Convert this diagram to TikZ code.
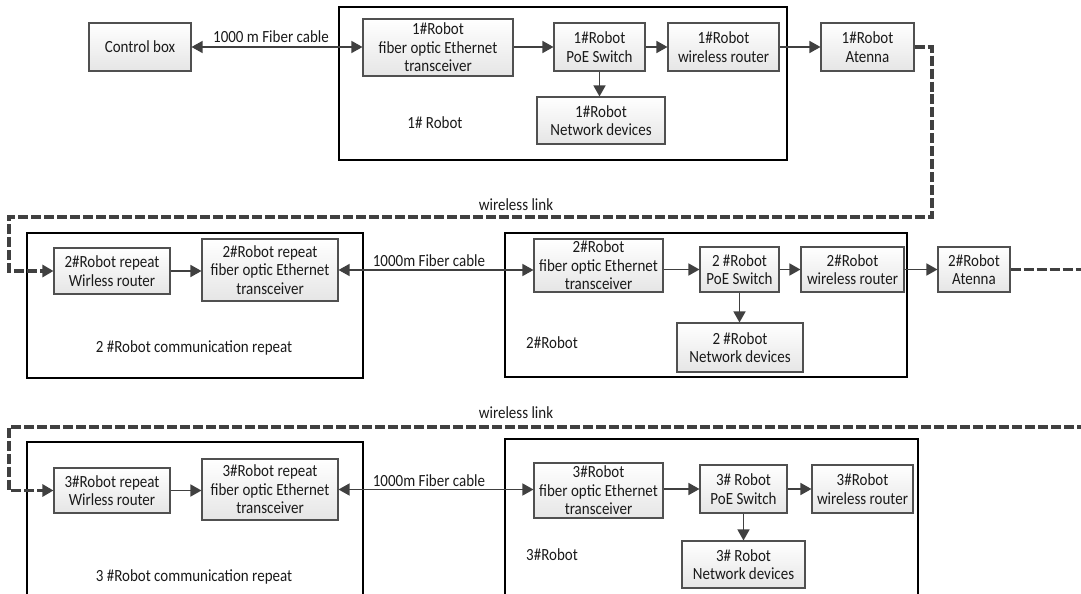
\documentclass[tikz,border=0pt]{standalone}
\usepackage{fontspec}
\setmainfont{Carlito}[FakeStretch=0.88]
\usetikzlibrary{arrows.meta,shadows,calc}
\definecolor{boxline}{HTML}{505050}
\definecolor{arr}{HTML}{404040}
\definecolor{txt}{HTML}{1A1A1A}
\tikzset{
 dev/.style={draw=boxline, line width=0.6pt, top color=white, bottom color=gray!20, align=center, inner sep=0pt, text=txt,
   font=\fontsize{9.7}{10.6}\selectfont,
   drop shadow={shadow xshift=0.7pt, shadow yshift=-0.7pt, fill=gray!40, opacity=1}},
 grp/.style={draw=black, line width=1.1pt, inner sep=0pt},
 lbl/.style={inner sep=0pt, text=txt, font=\fontsize{9.7}{10.6}\selectfont},
 link/.style={draw=arr, line width=0.8pt, -{Triangle[length=2.2mm,width=2.4mm]}},
 fiber/.style={draw=arr, line width=0.7pt, {Triangle[length=2.2mm,width=2.4mm]}-{Triangle[length=2.2mm,width=2.4mm]}},
 wlink/.style={draw=arr, line width=2pt, dash pattern=on 0.2cm off 0.06cm},
 wlinkarr/.style={wlink, -{Triangle[length=2.2mm,width=2.4mm]}},
}
\begin{document}
\begin{tikzpicture}[x=0.02cm,y=-0.02cm]
\useasboundingbox (0,0) rectangle (1081,594);
\clip (0,0) rectangle (1081,594);
% group frames
\node[grp, minimum width=8.96cm, minimum height=3.06cm] (R1) at (563,83.5) {};
\node[grp, minimum width=6.72cm, minimum height=2.9cm] (P2) at (195,305.5) {};
\node[grp, minimum width=8.04cm, minimum height=2.88cm] (R2) at (706,305) {};
\node[grp, minimum width=6.72cm, minimum height=3.36cm] (P3) at (195,526) {};
\node[grp, minimum width=8.26cm, minimum height=3.42cm] (R3) at (711.5,524.5) {};
% row 1
\node[dev, minimum width=2.04cm, minimum height=0.96cm] (cb) at (140,47) {Control box};
\node[dev, minimum width=3.0cm, minimum height=1.14cm] (t1) at (438,47.5) {1\#Robot\\fiber optic Ethernet\\transceiver};
\node[dev, minimum width=1.82cm, minimum height=0.96cm] (p1) at (599.5,47) {1\#Robot\\PoE Switch};
\node[dev, minimum width=2.22cm, minimum height=0.96cm] (r1) at (723.5,47) {1\#Robot\\wireless router};
\node[dev, minimum width=1.86cm, minimum height=0.96cm] (a1) at (867.5,47) {1\#Robot\\Atenna};
\node[dev, minimum width=2.56cm, minimum height=0.94cm] (n1) at (601,120.5) {1\#Robot\\Network devices};
\node[lbl] (l1) at (435,123) {1\# Robot};
\node[lbl] (f1) at (271,37) {1000 m Fiber cable};
% row 2
\node[dev, minimum width=2.32cm, minimum height=0.92cm] (rr2) at (112,271) {2\#Robot repeat\\Wirless router};
\node[dev, minimum width=2.72cm, minimum height=1.24cm] (rt2) at (270,270) {2\#Robot repeat\\fiber optic Ethernet\\transceiver};
\node[dev, minimum width=2.58cm, minimum height=1.06cm] (t2) at (598.5,265.5) {2\#Robot\\fiber optic Ethernet\\transceiver};
\node[dev, minimum width=1.58cm, minimum height=0.9cm] (p2) at (739.5,269.5) {2 \#Robot\\PoE Switch};
\node[dev, minimum width=2.06cm, minimum height=0.9cm] (r2) at (852.5,269.5) {2\#Robot\\wireless router};
\node[dev, minimum width=1.44cm, minimum height=0.9cm] (a2) at (974,269.5) {2\#Robot\\Atenna};
\node[dev, minimum width=2.52cm, minimum height=0.98cm] (n2) at (740,347.5) {2 \#Robot\\Network devices};
\node[lbl] (l2) at (552,343) {2\#Robot};
\node[lbl] (c2) at (194,348) {2 \#Robot communication repeat};
\node[lbl] (f2) at (429,261) {1000m Fiber cable};
\node[lbl] (w2) at (516,205) {wireless link};
% row 3
\node[dev, minimum width=2.32cm, minimum height=0.9cm] (rr3) at (112,490.5) {3\#Robot repeat\\Wirless router};
\node[dev, minimum width=2.72cm, minimum height=1.22cm] (rt3) at (270,489.5) {3\#Robot repeat\\fiber optic Ethernet\\transceiver};
\node[dev, minimum width=2.58cm, minimum height=1.1cm] (t3) at (598.5,490.5) {3\#Robot\\fiber optic Ethernet\\transceiver};
\node[dev, minimum width=1.74cm, minimum height=0.96cm] (p3) at (743.5,489) {3\# Robot\\PoE Switch};
\node[dev, minimum width=2.02cm, minimum height=0.96cm] (r3) at (862.5,489) {3\#Robot\\wireless router};
\node[dev, minimum width=2.46cm, minimum height=0.94cm] (n3) at (743.5,564.5) {3\# Robot\\Network devices};
\node[lbl] (l3) at (552,555) {3\#Robot};
\node[lbl] (c3) at (194,577) {3 \#Robot communication repeat};
\node[lbl] (f3) at (429,481) {1000m Fiber cable};
\node[lbl] (w3) at (516,413) {wireless link};
% connectors row 1
\draw[fiber] (cb.east) -- (cb.east -| t1.west);
\draw[link] (p1.west -| t1.east) -- (p1.west);
\draw[link] (p1.east) -- (r1.west);
\draw[link] (r1.east) -- (a1.west);
\draw[link] (p1.south) -- (p1.south |- n1.north);
% wireless link 1 -> 2
\coordinate (k1) at (932,217);
\coordinate (k2) at (9,217);
\draw[wlinkarr] (a1.east) -| (k1) -- (k2) |- (rr2.west);
% connectors row 2
\draw[link] (rr2.east) -- (rr2.east -| rt2.west);
\draw[fiber] (rt2.east) -- (rt2.east -| t2.west);
\draw[link] (p2.west -| t2.east) -- (p2.west);
\draw[link] (p2.east) -- (r2.west);
\draw[link] (r2.east) -- (a2.west);
\draw[link] (p2.south) -- (p2.south |- n2.north);
% wireless link 2 -> 3
\coordinate (k3) at (1100,269.5);
\draw[wlink] (a2.east) -- (k3);
\coordinate (k4) at (1100,427);
\coordinate (k5) at (9,427);
\draw[wlinkarr] (k4) -- (k5) |- (rr3.west);
% connectors row 3
\draw[link] (rr3.east) -- (rr3.east -| rt3.west);
\draw[fiber] (rt3.east) -- (rt3.east -| t3.west);
\draw[link] (p3.west -| t3.east) -- (p3.west);
\draw[link] (p3.east) -- (r3.west);
\draw[link] (p3.south) -- (p3.south |- n3.north);
\end{tikzpicture}
\end{document}
